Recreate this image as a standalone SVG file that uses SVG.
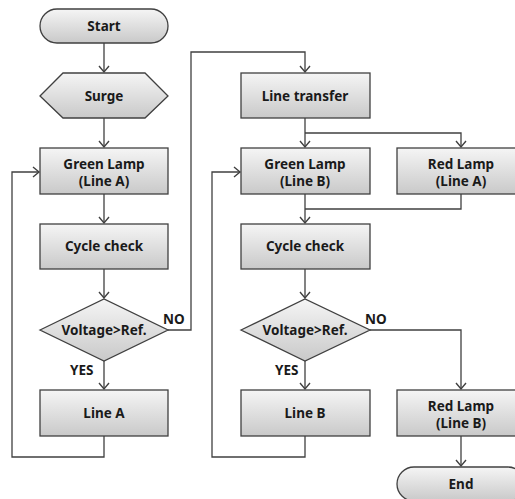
<svg xmlns="http://www.w3.org/2000/svg" width="515" height="499" viewBox="0 0 515 499">
<defs>
<linearGradient id="g" x1="0" y1="0" x2="0" y2="1">
<stop offset="0" stop-color="#f5f5f5"/>
<stop offset="1" stop-color="#c9c9c9"/>
</linearGradient>
<marker id="ar" markerWidth="12" markerHeight="12" refX="10" refY="6" orient="auto" markerUnits="userSpaceOnUse">
<path d="M4,1 L10,6 L4,11" fill="none" stroke="#404040" stroke-width="1.4"/>
</marker>
</defs>
<style>
.n{fill:url(#g);stroke:#404040;stroke-width:1.3}
.t{font-family:"Noto Sans","Open Sans",sans-serif;font-weight:bold;font-size:13.5px;fill:#1a1a1a;text-anchor:middle}
.l{font-family:"Noto Sans","Open Sans",sans-serif;font-weight:bold;font-size:13.5px;fill:#1a1a1a}
.c{fill:none;stroke:#404040;stroke-width:1.3}
</style>
<rect width="515" height="499" fill="#ffffff"/>
<g id="connectors">
<path class="c" d="M104,43 V72" marker-end="url(#ar)"/>
<path class="c" d="M104,118 V147" marker-end="url(#ar)"/>
<path class="c" d="M104,194 V223" marker-end="url(#ar)"/>
<path class="c" d="M104,269 V298" marker-end="url(#ar)"/>
<path class="c" d="M104,361 V389" marker-end="url(#ar)"/>
<path class="c" d="M104,436 V457 H12 V172 H39" marker-end="url(#ar)"/>
<path class="c" d="M168,330 H191 V52 H305 V72" marker-end="url(#ar)"/>
<path class="c" d="M305,118 V147" marker-end="url(#ar)"/>
<path class="c" d="M305,133 H461 V147" marker-end="url(#ar)"/>
<path class="c" d="M305,194 V223" marker-end="url(#ar)"/>
<path class="c" d="M461,194 V209 H305"/>
<path class="c" d="M305,269 V298" marker-end="url(#ar)"/>
<path class="c" d="M305,361 V389" marker-end="url(#ar)"/>
<path class="c" d="M305,436 V457 H212 V172 H240" marker-end="url(#ar)"/>
<path class="c" d="M370,330 H461 V389" marker-end="url(#ar)"/>
<path class="c" d="M461,436 V466" marker-end="url(#ar)"/>
<text class="l" x="163" y="324">NO</text>
<text class="l" x="70" y="375">YES</text>
<text class="l" x="365" y="324">NO</text>
<text class="l" x="275" y="375">YES</text>
</g>
<g id="start">
<rect class="n" x="40" y="9" width="128" height="34" rx="17"/>
<text class="t" x="104" y="31">Start</text>
</g>
<g id="surge">
<polygon class="n" points="40,96 63,73 145,73 168,96 145,118 63,118"/>
<text class="t" x="104" y="101">Surge</text>
</g>
<g id="greenA">
<rect class="n" x="40" y="148" width="128" height="46"/>
<text class="t" x="104" y="169">Green Lamp</text>
<text class="t" x="104" y="186">(Line A)</text>
</g>
<g id="cycleA">
<rect class="n" x="40" y="224" width="128" height="45"/>
<text class="t" x="104" y="251">Cycle check</text>
</g>
<g id="decA">
<polygon class="n" points="40,330 104,299 168,330 104,361"/>
<text class="t" x="104" y="335">Voltage&gt;Ref.</text>
</g>
<g id="lineA">
<rect class="n" x="40" y="390" width="128" height="46"/>
<text class="t" x="104" y="418">Line A</text>
</g>
<g id="transfer">
<rect class="n" x="241" y="73" width="129" height="45"/>
<text class="t" x="305" y="101">Line transfer</text>
</g>
<g id="greenB">
<rect class="n" x="241" y="148" width="129" height="46"/>
<text class="t" x="305" y="169">Green Lamp</text>
<text class="t" x="305" y="186">(Line B)</text>
</g>
<g id="redA">
<rect class="n" x="397" y="148" width="128" height="46"/>
<text class="t" x="461" y="169">Red Lamp</text>
<text class="t" x="461" y="186">(Line A)</text>
</g>
<g id="cycleB">
<rect class="n" x="241" y="224" width="129" height="45"/>
<text class="t" x="305" y="251">Cycle check</text>
</g>
<g id="decB">
<polygon class="n" points="241,330 305,299 370,330 305,361"/>
<text class="t" x="305" y="335">Voltage&gt;Ref.</text>
</g>
<g id="lineB">
<rect class="n" x="241" y="390" width="129" height="46"/>
<text class="t" x="305" y="418">Line B</text>
</g>
<g id="redB">
<rect class="n" x="397" y="390" width="128" height="46"/>
<text class="t" x="461" y="411">Red Lamp</text>
<text class="t" x="461" y="428">(Line B)</text>
</g>
<g id="end">
<rect class="n" x="397" y="467" width="128" height="34" rx="17"/>
<text class="t" x="461" y="489">End</text>
</g>
</svg>
